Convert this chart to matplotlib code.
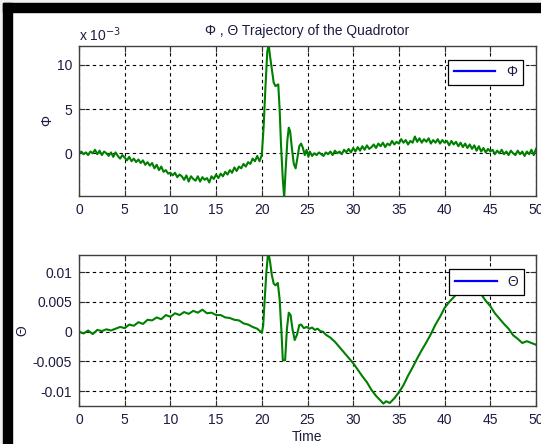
import matplotlib
matplotlib.use("Agg")
import matplotlib.pyplot as plt
from matplotlib.lines import Line2D
from matplotlib.patches import Rectangle

# ---------------- data ----------------
# Phi (in units of 1e-3), sampled every 0.25 s outside the transient
t_phi = [0.0, 0.25, 0.5, 0.75, 1.0, 1.25, 1.5, 1.75, 2.0, 2.25, 2.5, 2.75, 3.0, 3.25,
         3.5, 3.75, 4.0, 4.25, 4.5, 4.75, 5.0, 5.25, 5.5, 5.75, 6.0, 6.25, 6.5, 6.75,
         7.0, 7.25, 7.5, 7.75, 8.0, 8.25, 8.5, 8.75, 9.0, 9.25, 9.5, 9.75, 10.0, 10.25,
         10.5, 10.75, 11.0, 11.25, 11.5, 11.75, 12.0, 12.25, 12.5, 12.75, 13.0, 13.25,
         13.5, 13.75, 14.0, 14.25, 14.5, 14.75, 15.0, 15.25, 15.5, 15.75, 16.0, 16.25,
         16.5, 16.75, 17.0, 17.25, 17.5, 17.75, 18.0, 18.25, 18.5, 18.75, 19.0, 19.25,
         19.5, 19.75, 20.0,
         20.2, 20.4, 20.6, 20.75, 20.9, 21.1, 21.3, 21.5, 21.8, 21.95, 22.1, 22.3, 22.45,
         22.6, 22.8, 22.95, 23.1, 23.3, 23.5, 23.7, 23.9, 24.1, 24.3, 24.5, 24.7, 24.9,
         25.1,
         25.25, 25.5, 25.75, 26.0, 26.25, 26.5, 26.75, 27.0, 27.25, 27.5, 27.75, 28.0,
         28.25, 28.5, 28.75, 29.0, 29.25, 29.5, 29.75, 30.0, 30.25, 30.5, 30.75, 31.0,
         31.25, 31.5, 31.75, 32.0, 32.25, 32.5, 32.75, 33.0, 33.25, 33.5, 33.75, 34.0,
         34.25, 34.5, 34.75, 35.0, 35.25, 35.5, 35.75, 36.0, 36.25, 36.5, 36.75, 37.0,
         37.25, 37.5, 37.75, 38.0, 38.25, 38.5, 38.75, 39.0, 39.25, 39.5, 39.75, 40.0,
         40.25, 40.5, 40.75, 41.0, 41.25, 41.5, 41.75, 42.0, 42.25, 42.5, 42.75, 43.0,
         43.25, 43.5, 43.75, 44.0, 44.25, 44.5, 44.75, 45.0, 45.25, 45.5, 45.75, 46.0,
         46.25, 46.5, 46.75, 47.0, 47.25, 47.5, 47.75, 48.0, 48.25, 48.5, 48.75, 49.0,
         49.25, 49.5, 49.75, 50.0]
phi_e3 = [0.0, 0.2, -0.1, 0.1, -0.2, 0.2, 0.0, 0.4, -0.1, 0.3, -0.2, 0.2, 0.0, -0.3,
          0.1, -0.4, 0.1, -0.3, -0.6, -0.2, -0.5, -0.8, -0.4, -0.9, -0.6, -1.0, -0.7,
          -1.1, -0.8, -1.3, -1.0, -1.4, -1.1, -1.7, -1.3, -1.9, -1.5, -2.1, -1.9, -2.3,
          -2.2, -2.5, -2.2, -2.7, -2.4, -2.6, -3.0, -2.5, -3.2, -2.6, -2.9, -3.1, -2.6,
          -3.2, -2.7, -3.0, -2.8, -3.3, -2.6, -2.9, -2.4, -2.8, -2.3, -2.6, -2.1, -2.4,
          -1.9, -2.2, -1.6, -2.0, -1.5, -1.7, -1.2, -1.5, -1.0, -1.2, -0.6, -0.9, -0.3,
          -0.9, -0.2,
          3.0, 7.5, 11.5, 12.3, 11.0, 9.5, 8.0, 7.6, 7.8, 5.0, 1.0, -3.0, -5.0,
          -2.0, 1.5, 2.9, 2.5, 0.5, -1.2, -1.7, -0.5, 0.8, 1.1, 0.6, -0.2, 0.4,
          -0.4,
          0.2, -0.3, 0.0, -0.2, 0.1, -0.1, -0.3, 0.1, -0.1, 0.2, -0.2, 0.3,
          0.0, 0.2, -0.1, 0.4, 0.1, 0.5, 0.1, 0.6, 0.2, 0.7, 0.3, 0.8,
          0.4, 0.9, 0.5, 0.7, 1.0, 0.6, 1.1, 0.8, 1.2, 0.7, 1.1, 0.9,
          1.4, 1.0, 1.3, 1.1, 1.6, 1.2, 1.5, 1.0, 1.4, 1.2, 1.9, 1.3,
          1.7, 1.2, 1.6, 1.3, 1.7, 1.1, 1.5, 1.2, 1.6, 1.1, 1.5, 1.2,
          1.4, 0.9, 1.4, 1.0, 1.3, 0.8, 1.2, 0.7, 1.1, 0.6, 1.0, 0.5,
          0.9, 0.3, 0.8, 0.2, 0.6, 0.1, 0.5, 0.2, 0.4, -0.1, 0.3, 0.0,
          0.4, -0.1, 0.2, -0.2, 0.3, 0.0, -0.2, 0.3, -0.1, 0.2, -0.3, 0.2,
          -0.1, 0.4, -0.2, 0.5]

t_theta = [0, 0.5, 1.0, 1.5, 2.0, 2.5, 3.0, 3.5, 4.0, 4.5, 5.0, 5.5, 6.0, 6.5, 7.0, 7.5,
           8.0, 8.5, 9.0, 9.5, 10.0, 10.5, 11.0, 11.5, 12.0, 12.5, 13.0, 13.5, 14.0,
           14.5, 15.0, 15.5, 16.0, 16.5, 17.0, 17.5, 18.0, 18.5, 19.0, 19.5, 19.8, 20.0,
           20.15, 20.3, 20.5, 20.7, 20.9, 21.1, 21.3, 21.5, 21.75, 21.95, 22.15, 22.3,
           22.55, 22.75, 22.95, 23.15, 23.35, 23.6, 23.85, 24.1, 24.3, 24.6, 24.9, 25.2,
           25.5, 25.8, 26.1, 26.4, 26.7, 27.0, 27.5, 28.0, 28.5, 29.0, 29.5, 30.0, 30.5,
           31.0, 31.5, 32.0, 32.5, 33.0, 33.3, 33.6, 34.0, 34.5, 35.0, 35.5, 36.0, 36.5,
           37.0, 37.5, 38.0, 38.5, 39.0, 39.5, 40.0, 40.5, 41.0, 41.5, 42.0, 42.5, 43.0,
           43.5, 44.0, 44.5, 45.0, 45.5, 46.0, 46.5, 47.0, 47.5, 48.0, 48.5, 49.0, 49.5,
           50.0]
theta = [0.0, -0.0003, 0.0002, -0.0004, 0.0003, 0.0001, 0.0004, 0.0002, 0.0005, 0.0008,
         0.0006, 0.0012, 0.0010, 0.0016, 0.0013, 0.0020, 0.0019, 0.0024, 0.0021, 0.0028,
         0.0025, 0.0031, 0.0028, 0.0033, 0.0030, 0.0035, 0.0032, 0.0037, 0.0031, 0.0032,
         0.0028, 0.0028, 0.0024, 0.0023, 0.0020, 0.0019, 0.0014, 0.0012, 0.0008, 0.0005,
         0.0001, -0.0002, 0.0010, 0.0050, 0.0100, 0.0135, 0.0118, 0.0095, 0.0081, 0.0078,
         0.0082, 0.0055, 0.0000, -0.0048, -0.0048, 0.0005, 0.0032, 0.0028, 0.0005,
         -0.0014, -0.0005, 0.0011, 0.0012, 0.0006, 0.0008, 0.0005, 0.0007, 0.0003, 0.0005,
         0.0001, 0.0000, -0.0005, -0.0010, -0.0017, -0.0026, -0.0035, -0.0044, -0.0053,
         -0.0064, -0.0075, -0.0085, -0.0098, -0.0108, -0.0116, -0.0121, -0.0117, -0.0120,
         -0.0112, -0.0102, -0.0090, -0.0074, -0.0060, -0.0045, -0.0031, -0.0018, -0.0004,
         0.0012, 0.0025, 0.0040, 0.0050, 0.0058, 0.0067, 0.0070, 0.0076, 0.0078, 0.0071,
         0.0063, 0.0052, 0.0043, 0.0031, 0.0022, 0.0013, 0.0005, -0.0006, -0.0012,
         -0.0019, -0.0016, -0.0019, -0.0022]

x_ticks = [0, 5, 10, 15, 20, 25, 30, 35, 40, 45, 50]
phi_ticks = [0, 5, 10]
theta_ticks = [-0.01, -0.005, 0, 0.005, 0.01]
theta_ticklabels = ["-0.01", "-0.005", "0", "0.005", "0.01"]

# ---------------- style ----------------
W, H = 541, 444
plt.rcParams['font.family'] = ['Liberation Sans', 'DejaVu Sans']
TXT = '#1c1c40'
LINE = '#008000'
fig = plt.figure(figsize=(W / 100, H / 100), dpi=100, facecolor='white')

# window frame (light gray rim + black band on top/left)
fig.patches.append(Rectangle((0, 0), 3 / W, 1, transform=fig.transFigure,
                             color='#f0f0f0', zorder=0))
fig.patches.append(Rectangle((0, 1 - 3 / H), 1, 3 / H, transform=fig.transFigure,
                             color='#f0f0f0', zorder=0))
fig.patches.append(Rectangle((3 / W, 0), 9 / W, 1 - 3 / H, transform=fig.transFigure,
                             color='black', zorder=0))
fig.patches.append(Rectangle((3 / W, 1 - 12 / H), 1 - 3 / W, 9 / H,
                             transform=fig.transFigure, color='black', zorder=0))


def px_axes(l, t, r, b):
    return fig.add_axes([l / W, 1 - b / H, (r - l) / W, (b - t) / H])


def style(ax):
    ax.set_xlim(0, 50)
    ax.set_xticks(x_ticks)
    ax.grid(True, color='black', linestyle=(0, (3, 3)), linewidth=0.8)
    ax.tick_params(direction='in', length=4, top=True, right=True, colors='#303030',
                   labelcolor=TXT, labelsize=10, pad=5)
    for s in ax.spines.values():
        s.set_color('#404040')
        s.set_linewidth(1.0)
    ax.set_axisbelow(True)


def add_legend(ax, label, anchor):
    leg = ax.legend([Line2D([], [], color='blue', lw=1.6)], [label],
                    loc='upper right', bbox_to_anchor=anchor,
                    fancybox=False, edgecolor='black', framealpha=1,
                    handlelength=3.0, fontsize=10, borderpad=0.4)
    leg.get_frame().set_linewidth(0.9)
    for tx in leg.get_texts():
        tx.set_color(TXT)


# top axes: Phi
ax1 = px_axes(79, 46, 536, 196)
ax1.plot(t_phi, phi_e3, color=LINE, lw=1.5)
ax1.set_ylim(-4.83, 12.14)
ax1.set_yticks(phi_ticks)
style(ax1)
ax1.set_ylabel('Φ', color=TXT, fontsize=10)
ax1.yaxis.set_label_coords(-0.054, 0.5)
ax1.set_title('Φ , Θ Trajectory of the Quadrotor', color=TXT, fontsize=10, pad=8)
fig.text(79 / W, 1 - 35 / H, 'x 10$^{-3}$', color=TXT, fontsize=10,
         ha='left', va='center')
add_legend(ax1, 'Φ', (0.987, 0.955))

# bottom axes: Theta
ax2 = px_axes(79, 255, 536, 406)
ax2.plot(t_theta, theta, color=LINE, lw=1.5)
ax2.set_ylim(-0.0125, 0.0129)
ax2.set_yticks(theta_ticks)
ax2.set_yticklabels(theta_ticklabels)
style(ax2)
ax2.set_ylabel('Θ', color=TXT, fontsize=10)
ax2.yaxis.set_label_coords(-0.108, 0.5)
ax2.set_xlabel('Time', color=TXT, fontsize=10, labelpad=2)
add_legend(ax2, 'Θ', (0.989, 0.95))

fig.savefig('out.png', dpi=100, facecolor='white')
